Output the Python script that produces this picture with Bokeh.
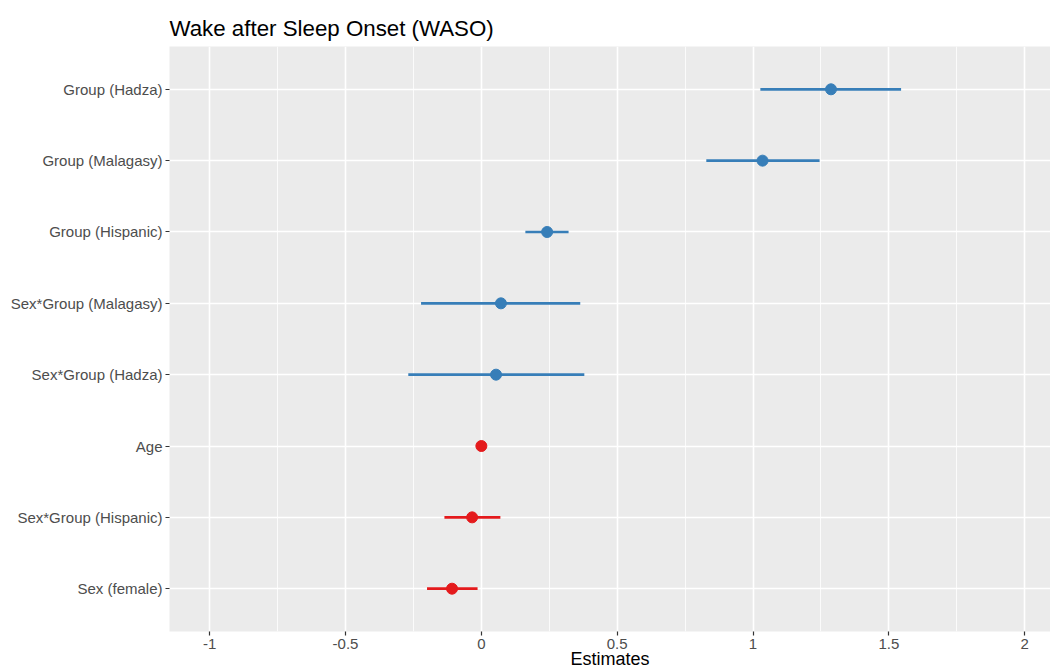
from bokeh.plotting import figure
from bokeh.models import FactorRange, Range1d, FixedTicker, ColumnDataSource
from bokeh.embed import file_html
from bokeh.resources import INLINE

# ---- data (top to bottom as in the chart) ----
terms = ["Group (Hadza)", "Group (Malagasy)", "Group (Hispanic)",
         "Sex*Group (Malagasy)", "Sex*Group (Hadza)", "Age",
         "Sex*Group (Hispanic)", "Sex (female)"]
estimate = [1.287, 1.035, 0.242, 0.072, 0.054, 0.000, -0.034, -0.108]
conf_low = [1.027, 0.828, 0.162, -0.222, -0.269, -0.004, -0.136, -0.200]
conf_high = [1.545, 1.245, 0.321, 0.364, 0.379, 0.004, 0.070, -0.014]
direction = ["pos", "pos", "pos", "pos", "pos", "neg", "neg", "neg"]
x_ticks = [-1, -0.5, 0, 0.5, 1, 1.5, 2]
x_minor = [-0.75, -0.25, 0.25, 0.75, 1.25, 1.75]

palette = {"pos": "#377EB8", "neg": "#E41A1C"}
colors = [palette[d] for d in direction]

src = ColumnDataSource(dict(term=terms, est=estimate, lo=conf_low, hi=conf_high, color=colors))

FONT = "Liberation Sans"

p = figure(width=1050, height=671, output_backend="svg", toolbar_location=None,
           y_range=FactorRange(factors=list(reversed(terms)), range_padding=0.1,
                               range_padding_units="absolute"),
           x_range=Range1d(-1.148, 2.095),
           title="Wake after Sleep Onset (WASO)",
           min_border_left=169, min_border_right=0, min_border_top=46, min_border_bottom=39)

p.background_fill_color = "#EBEBEB"
p.border_fill_color = "white"
p.outline_line_color = None

# title
p.title.text_font = FONT
p.title.text_font_size = "22.3px"
p.title.text_font_style = "normal"
p.title.text_color = "black"
p.title.align = "left"
p.title.standoff = 11

# grids
p.xgrid.ticker = FixedTicker(ticks=x_ticks, minor_ticks=x_minor)
p.xaxis.ticker = FixedTicker(ticks=x_ticks, minor_ticks=x_minor)
p.xgrid.grid_line_color = "white"
p.xgrid.grid_line_width = 1.6
p.xgrid.minor_grid_line_color = "white"
p.xgrid.minor_grid_line_width = 0.8
p.ygrid.grid_line_color = "white"
p.ygrid.grid_line_width = 1.6

# axes
for ax in (p.xaxis, p.yaxis):
    ax.axis_line_color = None
    ax.major_tick_line_color = "#333333"
    ax.major_tick_line_width = 1.2
    ax.major_tick_out = 4
    ax.major_tick_in = 0
    ax.minor_tick_line_color = None
    ax.major_label_text_font = FONT
    ax.major_label_text_font_size = "15px"
    ax.major_label_text_color = "#4D4D4D"
    ax.major_label_standoff = 3

p.xaxis.major_label_overrides = {-1: "-1", -0.5: "-0.5", 0: "0", 0.5: "0.5", 1: "1", 1.5: "1.5", 2: "2"}
p.xaxis.axis_label = "Estimates"
p.xaxis.axis_label_text_font = FONT
p.xaxis.axis_label_text_font_size = "18px"
p.xaxis.axis_label_text_font_style = "normal"
p.xaxis.axis_label_text_color = "black"
p.xaxis.axis_label_standoff = -3

# marks
p.segment(x0="lo", y0="term", x1="hi", y1="term", line_color="color", line_width=2.7, source=src)
p.scatter(x="est", y="term", size=11, fill_color="color", line_color="color", source=src)

open("out.html", "w").write(file_html(p, INLINE))
